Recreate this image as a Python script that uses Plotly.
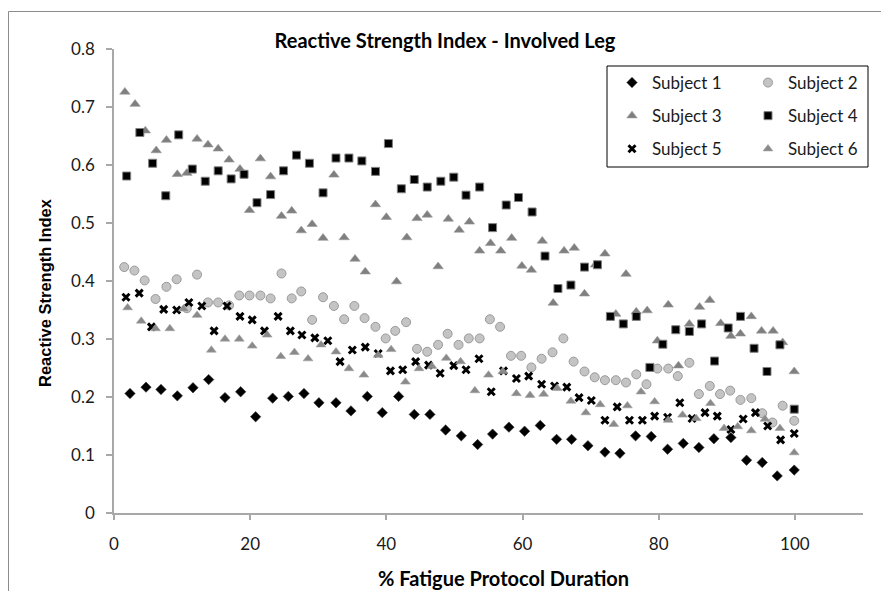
import plotly.graph_objects as go

title_text = "Reactive Strength Index - Involved Leg"
x_title = "% Fatigue Protocol Duration"
y_title = "Reactive Strength Index"
names = ["Subject 1", "Subject 2", "Subject 3", "Subject 4", "Subject 5", "Subject 6"]

s1_x = [2.35, 4.7, 6.9, 9.3, 11.6, 13.9, 16.3, 18.6, 20.8, 23.3, 25.6, 27.9, 30.1, 32.6, 34.8,
        37.2, 39.4, 41.8, 44.1, 46.4, 48.7, 51.0, 53.4, 55.6, 58.0, 60.3, 62.6, 65.0, 67.2, 69.6,
        72.1, 74.3, 76.6, 78.9, 81.3, 83.6, 85.9, 88.1, 90.6, 92.9, 95.2, 97.4, 99.9]
s1_y = [0.206, 0.217, 0.213, 0.202, 0.216, 0.230, 0.199, 0.209, 0.166, 0.198,
        0.201, 0.206, 0.190, 0.190, 0.176, 0.201, 0.173, 0.201, 0.170, 0.170,
        0.143, 0.133, 0.118, 0.136, 0.148, 0.141, 0.151, 0.127, 0.127, 0.116,
        0.105, 0.103, 0.133, 0.132, 0.110, 0.120, 0.113, 0.128, 0.130, 0.091,
        0.087, 0.064, 0.074]

s2_x = [1.5, 3.0, 4.5, 6.1, 7.7, 9.2, 10.7, 12.2, 13.8, 15.3, 16.9, 18.4, 19.9, 21.5, 23.0,
        24.6, 26.1, 27.5, 29.1, 30.7, 32.3, 33.8, 35.3, 36.8, 38.4, 39.9, 41.3, 42.9, 44.5, 46.0,
        47.6, 49.0, 50.6, 52.1, 53.7, 55.2, 56.7, 58.3, 59.8, 61.3, 62.8, 64.4, 66.0, 67.5, 69.1,
        70.6, 72.1, 73.7, 75.2, 76.7, 78.2, 79.8, 81.4, 82.8, 84.5, 85.9, 87.5, 89.0, 90.5, 92.0,
        93.6, 95.2, 96.7, 98.2, 99.9]
s2_y = [0.424, 0.418, 0.401, 0.369, 0.390, 0.403, 0.353, 0.411, 0.363, 0.363,
        0.358, 0.375, 0.375, 0.375, 0.370, 0.413, 0.370, 0.382, 0.333, 0.372,
        0.357, 0.334, 0.357, 0.336, 0.321, 0.301, 0.314, 0.329, 0.283, 0.278,
        0.290, 0.309, 0.290, 0.301, 0.301, 0.334, 0.321, 0.271, 0.271, 0.251,
        0.266, 0.277, 0.301, 0.261, 0.244, 0.234, 0.229, 0.229, 0.225, 0.239,
        0.222, 0.249, 0.249, 0.236, 0.259, 0.205, 0.219, 0.205, 0.211, 0.195,
        0.198, 0.172, 0.156, 0.185, 0.159]

s3_x = [1.6, 3.1, 4.6, 6.2, 7.7, 9.3, 10.7, 12.2, 13.8, 15.3, 16.9, 18.5, 19.9, 21.5, 23.0,
        24.6, 26.1, 27.5, 29.1, 30.7, 32.3, 33.8, 35.4, 36.9, 38.4, 40.0, 41.5, 43.0, 44.5, 46.0,
        47.6, 49.1, 50.7, 52.2, 53.7, 55.3, 56.8, 58.4, 59.9, 61.3, 62.9, 64.5, 66.1, 67.6, 69.1,
        70.7, 72.1, 73.7, 75.2, 76.7, 78.3, 79.8, 81.4, 82.9, 84.5, 86.0, 87.5, 89.1, 90.6, 92.0,
        93.6, 95.1, 96.8, 98.2, 99.9]
s3_y = [0.726, 0.705, 0.659, 0.625, 0.643, 0.584, 0.586, 0.645, 0.635, 0.628,
        0.609, 0.593, 0.522, 0.611, 0.580, 0.512, 0.521, 0.487, 0.498, 0.474,
        0.583, 0.475, 0.438, 0.416, 0.532, 0.510, 0.399, 0.475, 0.508, 0.514,
        0.425, 0.507, 0.488, 0.502, 0.452, 0.465, 0.452, 0.474, 0.426, 0.419,
        0.469, 0.362, 0.452, 0.457, 0.378, 0.428, 0.447, 0.343, 0.412, 0.347,
        0.349, 0.297, 0.359, 0.254, 0.326, 0.355, 0.367, 0.327, 0.305, 0.309,
        0.339, 0.314, 0.314, 0.294, 0.244]

s4_x = [1.86, 3.8, 5.67, 7.6, 9.5, 11.5, 13.4, 15.3, 17.2, 19.1, 21.0, 23.0, 24.9, 26.8, 28.7,
        30.7, 32.6, 34.5, 36.4, 38.4, 40.3, 42.2, 44.1, 46.0, 48.0, 49.9, 51.7, 53.7, 55.6, 57.6,
        59.4, 61.4, 63.3, 65.2, 67.1, 69.1, 71.0, 72.9, 74.8, 76.7, 78.7, 80.6, 82.5, 84.5, 86.3,
        88.2, 90.2, 92.0, 94.0, 95.9, 97.8, 99.9]
s4_y = [0.581, 0.656, 0.603, 0.547, 0.652, 0.593, 0.572, 0.590, 0.576, 0.584,
        0.535, 0.549, 0.590, 0.617, 0.603, 0.552, 0.612, 0.612, 0.607, 0.589,
        0.637, 0.559, 0.575, 0.562, 0.572, 0.579, 0.548, 0.562, 0.492, 0.531,
        0.544, 0.519, 0.443, 0.387, 0.393, 0.424, 0.428, 0.339, 0.326, 0.339,
        0.251, 0.291, 0.316, 0.313, 0.326, 0.262, 0.319, 0.339, 0.284, 0.244,
        0.290, 0.179]

s5_x = [1.76, 3.7, 5.5, 7.3, 9.2, 11.0, 12.9, 14.7, 16.6, 18.5, 20.3, 22.1, 24.1, 25.9, 27.6,
        29.5, 31.4, 33.2, 35.0, 36.9, 38.8, 40.6, 42.4, 44.3, 46.2, 47.9, 49.9, 51.7, 53.6, 55.4,
        57.2, 59.1, 60.9, 62.8, 64.7, 66.5, 68.3, 70.1, 72.1, 73.9, 75.7, 77.6, 79.4, 81.3, 83.1,
        84.9, 86.8, 88.6, 90.6, 92.4, 94.2, 96.0, 97.9, 99.9]
s5_y = [0.372, 0.379, 0.321, 0.351, 0.350, 0.363, 0.357, 0.314, 0.357, 0.339,
        0.333, 0.314, 0.339, 0.314, 0.307, 0.302, 0.297, 0.261, 0.281, 0.286,
        0.275, 0.245, 0.247, 0.261, 0.255, 0.241, 0.254, 0.247, 0.266, 0.209,
        0.245, 0.232, 0.236, 0.222, 0.219, 0.217, 0.199, 0.194, 0.160, 0.183,
        0.160, 0.160, 0.167, 0.165, 0.190, 0.163, 0.173, 0.167, 0.144, 0.162,
        0.173, 0.150, 0.126, 0.137]

s6_x = [2.0, 4.0, 6.1, 8.2, 10.2, 12.2, 14.3, 16.3, 18.4, 20.3, 22.5, 24.5, 26.5, 28.5, 30.4,
        32.6, 34.5, 36.7, 38.8, 40.7, 42.8, 44.8, 46.7, 48.8, 50.9, 53.0, 55.0, 57.1, 59.1, 61.1,
        63.1, 65.1, 67.1, 69.3, 71.4, 73.4, 75.4, 77.4, 79.4, 81.4, 83.5, 85.5, 87.6, 89.6, 91.6,
        93.6, 95.6, 97.8, 99.9]
s6_y = [0.354, 0.331, 0.318, 0.318, 0.352, 0.341, 0.281, 0.300, 0.300, 0.288,
        0.307, 0.270, 0.277, 0.266, 0.290, 0.278, 0.249, 0.238, 0.272, 0.282,
        0.226, 0.249, 0.253, 0.267, 0.261, 0.211, 0.238, 0.244, 0.206, 0.203,
        0.205, 0.215, 0.193, 0.173, 0.187, 0.153, 0.185, 0.209, 0.192, 0.160,
        0.169, 0.163, 0.189, 0.146, 0.149, 0.142, 0.162, 0.146, 0.104]

x_ticks = [0, 20, 40, 60, 80, 100]
y_ticks = [0, 0.1, 0.2, 0.3, 0.4, 0.5, 0.6, 0.7, 0.8]

# page offset (browser body margin) compensation
O = 8
W, H = 889 - O, 591 - O
L, R, T, B = 114 - O, 26, 49 - O, 78
pw, ph = W - L - R, H - T - B

def px(xp):  # xp: pixel x in the 889x591 window
    return (xp - O - L) / pw

def py(yp):
    return (H - B - (yp - O)) / ph

markers = [
    dict(symbol="diamond", size=8, color="black", line=dict(width=0.6, color="#333")),
    dict(symbol="circle", size=9, color="#c4c4c4", line=dict(width=1, color="#9a9a9a")),
    dict(symbol="triangle-up", size=9, color="#7f7f7f", line=dict(width=0.6, color="#999")),
    dict(symbol="square", size=8, color="black", line=dict(width=1, color="#808080")),
    dict(symbol="x-thin", size=7, color="black", line=dict(width=3, color="black")),
    dict(symbol="triangle-up", size=8.5, color="#8a8a8a", line=dict(width=0.6, color="#a0a0a0")),
]
xs = [s1_x, s2_x, s3_x, s4_x, s5_x, s6_x]
ys = [s1_y, s2_y, s3_y, s4_y, s5_y, s6_y]
legends = ["legend", "legend2", "legend", "legend2", "legend", "legend2"]

fig = go.Figure()
for i in range(6):
    fig.add_trace(go.Scatter(
        x=xs[i], y=ys[i], mode="markers", name=names[i], marker=markers[i],
        legend=legends[i], legendgroup=names[i], cliponaxis=False,
    ))

font_main = "Lato, 'Open Sans', sans-serif"
legend_common = dict(
    font=dict(family=font_main, size=17, color="#1a1a1a"),
    bgcolor="rgba(0,0,0,0)", borderwidth=0, tracegroupgap=8,
    xanchor="left", yanchor="top", itemsizing="trace",
)

fig.update_layout(
    width=W, height=H,
    margin=dict(l=L, r=R, t=T, b=B),
    paper_bgcolor="white", plot_bgcolor="white",
    showlegend=True,
    title=dict(text=title_text, x=px(445), xref="paper", xanchor="center",
               y=1 - (40.5 - O) / H, yref="container", yanchor="middle",
               font=dict(family=font_main, size=20, color="black", weight="bold")),
    legend=dict(x=px(612), y=py(65), **legend_common),
    legend2=dict(x=px(748), y=py(65), **legend_common),
    xaxis=dict(range=[0, 110], tickvals=x_ticks, ticktext=[str(v) for v in x_ticks],
               showgrid=False, zeroline=False, showline=True, linecolor="#a8a8a8", linewidth=1.5,
               ticks="outside", ticklen=5, tickcolor="#a8a8a8", tickwidth=1.5,
               ticklabelstandoff=10,
               tickfont=dict(family=font_main, size=17, color="#1a1a1a")),
    yaxis=dict(range=[0, 0.8], tickvals=y_ticks, ticktext=[f"{v:g}" for v in y_ticks],
               showgrid=False, zeroline=False, showline=True, linecolor="#a8a8a8", linewidth=1.5,
               ticks="outside", ticklen=6, tickcolor="#a8a8a8", tickwidth=1.5,
               ticklabelstandoff=8,
               tickfont=dict(family=font_main, size=17, color="#1a1a1a")),
    annotations=[
        dict(text=x_title, xref="paper", yref="paper", x=px(503), y=py(578),
             xanchor="center", yanchor="middle", showarrow=False,
             font=dict(family=font_main, size=20, color="black", weight="bold")),
        dict(text=y_title, xref="paper", yref="paper", x=px(45), y=py(293),
             xanchor="center", yanchor="middle", showarrow=False, textangle=-90,
             font=dict(family="Liberation Sans, Arial, sans-serif", size=16.5, color="black", weight="bold")),
    ],
    shapes=[
        dict(type="rect", xref="paper", yref="paper", x0=px(607), x1=px(868), y0=py(167), y1=py(66),
             line=dict(color="black", width=1), fillcolor="rgba(0,0,0,0)", layer="above"),
        dict(type="rect", xref="paper", yref="paper", x0=px(8.5), x1=px(900), y0=py(600), y1=py(11.5),
             line=dict(color="#8c8c8c", width=1), fillcolor="rgba(0,0,0,0)", layer="below"),
    ],
)

fig.write_html("out.html")
